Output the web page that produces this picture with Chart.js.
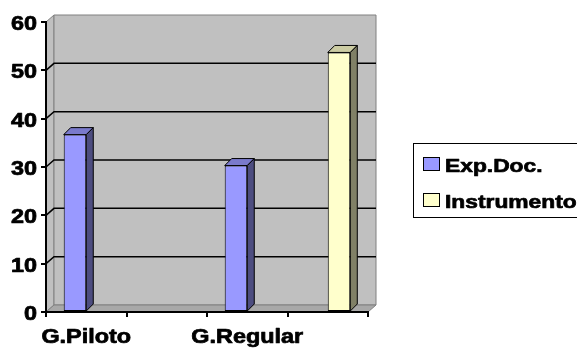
<!DOCTYPE html>
<html>
<head>
<meta charset="utf-8">
<script src="https://cdn.jsdelivr.net/npm/chart.js@4/dist/chart.umd.min.js"></script>
<style>
  html, body { margin: 0; padding: 0; background: #fff; }
  canvas { display: block; }
</style>
</head>
<body>
<canvas id="chart" width="577" height="349"></canvas>
<script>
// Categories (the 2nd and 4th have no visible label)
const categories = ['G.Piloto', '', 'G.Regular', ''];
const seriesNames = ['Exp.Doc.', 'Instrumento'];
const expDocValues = [36.7, 0, 30.3, 0];
const instrumentoValues = [0, 0, 0, 53.7];
const yTickValues = [0, 10, 20, 30, 40, 50, 60];

// Look & feel
const FONT = 'bold 19.5px "Liberation Sans", Arial, sans-serif';
const LEGEND_FONT = 'bold 19px "Liberation Sans", Arial, sans-serif';
const STRETCH = 1.2;              // wide-set lettering
const WALL = { dx: 8, dy: -7 };   // depth of walls / floor
const BAR = { dx: 7, dy: -7 };    // depth of the columns
const palette = [
  { front: '#9999ff', top: '#7a7acc', side: '#4d4d80' },
  { front: '#ffffcc', top: '#cccca3', side: '#808066' }
];

function poly(ctx, pts, fill, stroke, lw) {
  ctx.beginPath();
  ctx.moveTo(pts[0][0], pts[0][1]);
  for (let i = 1; i < pts.length; i++) ctx.lineTo(pts[i][0], pts[i][1]);
  ctx.closePath();
  if (fill) { ctx.fillStyle = fill; ctx.fill(); }
  if (stroke) { ctx.strokeStyle = stroke; ctx.lineWidth = lw || 1; ctx.stroke(); }
}

function wideText(ctx, text, x, y, align, font) {
  ctx.save();
  ctx.font = font || FONT;
  const w = ctx.measureText(text).width * STRETCH;
  let left = x;
  if (align === 'center') left = x - w / 2;
  else if (align === 'right') left = x - w;
  ctx.translate(left, y);
  ctx.scale(STRETCH, 1);
  ctx.textAlign = 'left';
  ctx.textBaseline = 'alphabetic';
  ctx.fillStyle = '#000';
  ctx.strokeStyle = '#000';
  ctx.lineWidth = 0.7;
  ctx.lineJoin = 'round';
  ctx.fillText(text, 0, 0);
  ctx.strokeText(text, 0, 0);
  ctx.restore();
}

// Walls, floor and back-wall gridlines, painted before the axes and columns
const wallsPlugin = {
  id: 'walls',
  beforeDraw(chart) {
    const ctx = chart.ctx;
    const { left, right, top, bottom } = chart.chartArea;
    const ys = chart.scales.y;
    const { dx, dy } = WALL;
    ctx.save();
    // side wall
    poly(ctx, [[left, bottom], [left, top], [left + dx, top + dy], [left + dx, bottom + dy]], '#c0c0c0', '#808080', 1);
    // back wall
    poly(ctx, [[left + dx, top + dy], [right + dx, top + dy], [right + dx, bottom + dy], [left + dx, bottom + dy]], '#c0c0c0', '#808080', 1);
    // gridlines running across side wall and back wall
    ctx.strokeStyle = '#000';
    ctx.lineWidth = 1.5;
    ys.ticks.forEach(t => {
      if (t.value <= ys.min || t.value >= ys.max) return;
      const y = ys.getPixelForValue(t.value);
      ctx.beginPath();
      ctx.moveTo(left, y);
      ctx.lineTo(left + dx, y + dy);
      ctx.lineTo(right + dx, y + dy);
      ctx.stroke();
    });
    // floor
    poly(ctx, [[left, bottom], [right, bottom], [right + dx, bottom + dy], [left + dx, bottom + dy]], '#a8a8a8', '#808080', 1);
    ctx.restore();
  }
};

// Top and side faces of every column
const columnsPlugin = {
  id: 'columns3d',
  afterDatasetsDraw(chart) {
    const ctx = chart.ctx;
    const { dx, dy } = BAR;
    ctx.save();
    chart.data.datasets.forEach((ds, i) => {
      const meta = chart.getDatasetMeta(i);
      meta.data.forEach((bar, j) => {
        if (!ds.data[j]) return;
        const p = bar.getProps(['x', 'y', 'base', 'width'], true);
        const l = p.x - p.width / 2, r = p.x + p.width / 2;
        poly(ctx, [[l, p.y], [l + dx, p.y + dy], [r + dx, p.y + dy], [r, p.y]], palette[i].top, '#000', 1);
        poly(ctx, [[r, p.y], [r + dx, p.y + dy], [r + dx, p.base + dy], [r, p.base]], palette[i].side, '#000', 1);
      });
    });
    ctx.restore();
  }
};

// Axis labels and the legend box
const labelsPlugin = {
  id: 'labels',
  afterDraw(chart) {
    const ctx = chart.ctx;
    const xs = chart.scales.x, ys = chart.scales.y;
    ys.ticks.forEach(t => {
      const y = ys.getPixelForValue(t.value);
      wideText(ctx, String(t.value), ys.right - 9, y + 8, 'right');
    });
    chart.data.labels.forEach((lab, j) => {
      if (!lab) return;
      wideText(ctx, lab, xs.getPixelForValue(j), 343, 'center');
    });
    // legend
    ctx.save();
    ctx.fillStyle = '#fff';
    ctx.fillRect(413.5, 143.5, 200, 74);
    ctx.strokeStyle = '#000';
    ctx.lineWidth = 1;
    ctx.strokeRect(413.5, 143.5, 200, 74);
    chart.data.datasets.forEach((ds, i) => {
      const y = 157 + i * 36;
      ctx.fillStyle = palette[i].front;
      ctx.fillRect(423.5, y + 0.5, 16, 13);
      ctx.strokeStyle = '#000';
      ctx.lineWidth = 1;
      ctx.strokeRect(423.5, y + 0.5, 16, 13);
      wideText(ctx, ds.label, 445, y + 14.5, 'left', LEGEND_FONT);
    });
    ctx.restore();
  }
};

const datasetValues = [expDocValues, instrumentoValues];

new Chart(document.getElementById('chart'), {
  type: 'bar',
  data: {
    labels: categories,
    datasets: seriesNames.map((name, i) => ({
      label: name,
      data: datasetValues[i],
      backgroundColor: palette[i].front,
      borderColor: '#000',
      borderWidth: c => (c.raw ? 1 : 0),
      borderSkipped: false,
      categoryPercentage: 0.56,
      barPercentage: 1.0
    }))
  },
  options: {
    responsive: false,
    animation: false,
    events: [],
    layout: { padding: { top: 22, right: 209, left: 0, bottom: 0 } },
    plugins: { legend: { display: false }, tooltip: { enabled: false } },
    scales: {
      x: {
        offset: true,
        grid: { offset: true, drawOnChartArea: false, drawTicks: true, tickLength: 5, color: '#000', lineWidth: 2 },
        border: { display: true, color: '#000', width: 2 },
        ticks: { display: false },
        afterFit(scale) { scale.height = 37; }
      },
      y: {
        min: 0,
        max: 60,
        afterBuildTicks(scale) { scale.ticks = yTickValues.map(v => ({ value: v })); },
        grid: { drawOnChartArea: false, drawTicks: true, tickLength: 5, color: '#000', lineWidth: 2 },
        border: { display: true, color: '#000', width: 2 },
        ticks: { display: false },
        afterFit(scale) { scale.width = 46; }
      }
    }
  },
  plugins: [wallsPlugin, columnsPlugin, labelsPlugin]
});
</script>
</body>
</html>
